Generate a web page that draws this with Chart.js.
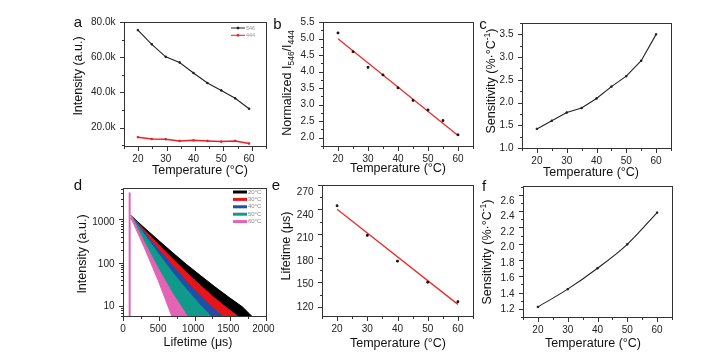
<!DOCTYPE html>
<html>
<head>
<meta charset="utf-8">
<script src="https://cdn.jsdelivr.net/npm/chart.js@4.4.1/dist/chart.umd.min.js"></script>
<style>
  html, body { margin: 0; padding: 0; background: #fff; }
  #wrap { position: relative; width: 717px; height: 354px; }
  #wrap canvas { position: absolute; }
  .ax { position: absolute; background: #333; z-index: 5; }
  .box { position: absolute; border: 1px solid #333; box-sizing: border-box; z-index: 5; }
  #err { position: absolute; left: 2px; top: 300px; width: 60px; font: 7px sans-serif; color: #c00; z-index: 9; }
</style>
</head>
<body>
<div id="wrap"><div id="err"></div></div>
<script>
// ---- data ----
const temps = [20, 25, 30, 35, 40, 45, 50, 55, 60];
const int546 = [75400, 67300, 60200, 57000, 51000, 45300, 41100, 36600, 30700];
const int444 = [14500, 13500, 13300, 12400, 12700, 12400, 12000, 12400, 10900];
const ratio = [5.17, 4.60, 4.13, 3.90, 3.51, 3.13, 2.84, 2.52, 2.09];
const fitTemps = [20, 60];
const ratioFit = [4.99, 2.07];
const sensRatio = [1.42, 1.60, 1.78, 1.88, 2.09, 2.35, 2.58, 2.92, 3.50];

const tempsLife = [20, 30, 40, 50, 60];
const lifetime = [252.7, 214.0, 180.3, 152.7, 127.2];
const lifetimeFit = [248.0, 123.7];
const sensLife = [1.23, 1.46, 1.73, 2.04, 2.45];

// decay curves: noisy bands given by upper / lower envelope
const decayTimes = [115, 300, 500, 700, 900, 1100, 1300, 1500, 1700, 1900];
const decay20Hi = [1470, 768, 387, 197, 102, 55, 30, 16.8, 9.7, 4.5];
const decay20Lo = [1290, 636, 295, 133, 58, 23, 8, 1.6, 1, 1];
const decay30Hi = [1470, 684, 306, 140, 65, 32, 16, 8.6, 4.8, 3];
const decay30Lo = [1290, 560, 224, 86, 31, 9, 1.4, 1, 1, 1];
const decay40Hi = [1470, 602, 236, 96, 40, 18, 8.6, 4.3, 2, 1];
const decay40Lo = [1290, 486, 166, 53, 14.5, 2.2, 1, 1, 1, 1];
const decay50Hi = [1470, 531, 184, 66, 26, 10.6, 4.8, 2, 1, 1];
const decay50Lo = [1290, 345, 78, 19, 5, 1, 1, 1, 1, 1];
const decay60Hi = [1470, 351, 81, 21, 6.4, 2.3, 1, 1, 1, 1];
const decay60Lo = [1290, 263, 42, 5.5, 1, 1, 1, 1, 1, 1];
const spikeTimes = [95, 95];
const spikeCounts = [1, 10000];

// tick labels
const tempTicks = [20, 30, 40, 50, 60];
const intensityTicks = [20000, 40000, 60000, 80000];
const ratioTicks = [2.0, 2.5, 3.0, 3.5, 4.0, 4.5, 5.0, 5.5];
const sensTicksC = [1.0, 1.5, 2.0, 2.5, 3.0, 3.5];
const timeTicks = [0, 500, 1000, 1500, 2000];
const countTicks = [10, 100, 1000];
const lifeTicks = [120, 150, 180, 210, 240, 270];
const sensTicksF = [1.2, 1.4, 1.6, 1.8, 2.0, 2.2, 2.4, 2.6];

const FONT = '"Liberation Sans", Arial, sans-serif';
Chart.defaults.font.family = FONT;
const wrap = document.getElementById('wrap');

function report(msg) {
    document.getElementById('err').textContent += msg + ' ';
}

function toPoints(xs, ys) {
    return xs.map((x, i) => ({ x: x, y: ys[i] }));
}

function minorValues(min, max, step) {
    const out = [];
    for (let i = Math.ceil(min / step - 1e-9); i * step <= max + 1e-9; i++) out.push(i * step);
    return out;
}

// draws text made of pieces (normal / sub / sup), optionally rotated
function drawRich(ctx, pieces, x, y, size, rotate) {
    ctx.save();
    ctx.translate(x, y);
    if (rotate) ctx.rotate(-Math.PI / 2);
    ctx.textBaseline = 'middle';
    ctx.textAlign = 'left';
    ctx.fillStyle = '#111';
    let total = 0;
    const parts = pieces.map(p => {
        const s = (p.sub || p.sup) ? size * 0.68 : size;
        ctx.font = s + 'px ' + FONT;
        const w = ctx.measureText(p.t).width;
        total += w;
        return { t: p.t, s: s, w: w, dy: p.sub ? size * 0.32 : (p.sup ? -size * 0.38 : 0) };
    });
    let cx = -total / 2;
    parts.forEach(p => {
        ctx.font = p.s + 'px ' + FONT;
        ctx.fillText(p.t, cx, p.dy);
        cx += p.w;
    });
    ctx.restore();
}

// settings for each panel (canvas offset, titles, letter, legend), keyed by canvas id
const deco = {};

// titles, panel letters, small legends (given in page coordinates)
const panelText = {
    id: 'panelText',
    afterDraw(chart) {
        const o = deco[chart.canvas.id];
        const ctx = chart.ctx;
        ctx.save();
        ctx.translate(-o.cx, -o.cy);
        drawRich(ctx, o.xTitle.pieces, o.xTitle.x, o.xTitle.y, 12.5, false);
        drawRich(ctx, o.yTitle.pieces, o.yTitle.x, o.yTitle.y, 12.5, true);
        ctx.fillStyle = '#111';
        ctx.font = '15px ' + FONT;
        ctx.textAlign = 'center';
        ctx.textBaseline = 'middle';
        ctx.fillText(o.letter.t, o.letter.x, o.letter.y);
        if (o.legend) {
            const lg = o.legend;
            lg.items.forEach((it, i) => {
                const y = lg.y + i * lg.dy;
                ctx.strokeStyle = it.color;
                ctx.lineWidth = lg.lineWidth;
                ctx.beginPath();
                ctx.moveTo(lg.x, y); ctx.lineTo(lg.x + lg.len, y);
                ctx.stroke();
                if (lg.marker) {
                    ctx.fillStyle = it.color;
                    ctx.fillRect(lg.x + lg.len / 2 - 1.2, y - 1.2, 2.4, 2.4);
                }
                ctx.fillStyle = lg.textColor;
                ctx.font = lg.size + 'px ' + FONT;
                ctx.textAlign = 'left';
                ctx.fillText(it.label, lg.x + lg.len + 1, y);
            });
        }
        ctx.restore();
    }
};
Chart.register(panelText);

function addEl(cls, x, y, w, h) {
    const el = document.createElement('div');
    el.className = cls;
    el.style.left = x + 'px';
    el.style.top = y + 'px';
    el.style.width = w + 'px';
    el.style.height = h + 'px';
    wrap.appendChild(el);
}

// box outline and outward ticks of one panel, placed along the axis range of the plot box
function outlinePanel(box, xOpt, yOpt, d) {
    const L = box[0], T = box[1], R = box[2], B = box[3];
    addEl('box', L, T, R - L + 1, B - T + 1);
    const xPix = v => L + (v - xOpt.min) / (xOpt.max - xOpt.min) * (R - L);
    const yPix = d.logY
        ? v => B - (Math.log10(v) - Math.log10(yOpt.min)) / (Math.log10(yOpt.max) - Math.log10(yOpt.min)) * (B - T)
        : v => B - (v - yOpt.min) / (yOpt.max - yOpt.min) * (B - T);
    const xTick = (v, len) => addEl('ax', Math.round(xPix(v)), B + 1, 1, len);
    const yTick = (v, len) => addEl('ax', L - len, Math.round(yPix(v)), len, 1);
    minorValues(xOpt.min, xOpt.max, d.xMinor).forEach(v => xTick(v, 2));
    let yv = [];
    if (d.logY) {
        for (let k = 0; k < 5; k++) {
            for (let m = 1; m < 10; m++) yv.push(m * Math.pow(10, k));
        }
        yv = yv.filter(v => v >= yOpt.min && v <= yOpt.max);
    } else {
        yv = minorValues(yOpt.min, yOpt.max, d.yMinor);
    }
    yv.forEach(v => yTick(v, 2));
    d.xTicks.forEach(v => xTick(v, 4));
    d.yTicks.forEach(v => yTick(v, 4));
}

function fixedTicks(list) {
    return function (scale) { scale.ticks = list.map(v => ({ value: v })); };
}

// frame = [x, y, w, h] of the canvas on the page, box = [left, top, right, bottom] of the plot area on the page
function makePanel(id, frame, box, datasets, xOpt, yOpt, d) {
    const yW = 40, xH = 30;
    try {
        outlinePanel(box, xOpt, yOpt, d);
    } catch (e) { report('o ' + e.message); }
    const canvas = document.createElement('canvas');
    canvas.id = id;
    canvas.width = frame[2];
    canvas.height = frame[3];
    canvas.style.left = frame[0] + 'px';
    canvas.style.top = frame[1] + 'px';
    wrap.appendChild(canvas);
    d.cx = frame[0];
    d.cy = frame[1];
    deco[id] = d;
    try {
        return new Chart(canvas, {
            type: 'line',
            data: { datasets: datasets },
            options: {
                responsive: false,
                animation: false,
                events: [],
                layout: { padding: {
                    left: box[0] - frame[0] - yW,
                    top: box[1] - frame[1],
                    right: frame[0] + frame[2] - box[2],
                    bottom: frame[1] + frame[3] - box[3] - xH
                } },
                plugins: { legend: { display: false }, tooltip: { enabled: false } },
                scales: {
                    x: Object.assign({
                        type: 'linear',
                        afterFit: s => { s.height = xH; },
                        afterBuildTicks: fixedTicks(d.xTicks),
                        grid: { display: false, drawTicks: false },
                        border: { display: false },
                        ticks: { padding: 7.5, color: '#222', font: { size: 10 }, maxRotation: 0, autoSkip: false, callback: v => String(v) }
                    }, xOpt),
                    y: Object.assign({
                        type: 'linear',
                        afterFit: s => { s.width = yW; },
                        afterBuildTicks: fixedTicks(d.yTicks),
                        grid: { display: false, drawTicks: false },
                        border: { display: false },
                        ticks: { padding: 8.5, color: '#222', font: { size: 10 }, autoSkip: false, callback: d.yLabel }
                    }, yOpt)
                }
            }
        });
    } catch (e) { report(id + ' ' + e.message); }
}

const tempAxis = { min: 15, max: 65 };
const pts = (color, r) => ({ pointStyle: 'rect', pointRadius: r, pointBackgroundColor: color, pointBorderColor: color, pointBorderWidth: 1 });
const tempTitle = [{ t: 'Temperature (°C)' }];
const sensTitle = [{ t: 'Sensitivity (%·°C' }, { t: '-1', sup: true }, { t: ')' }];
const oneDecimal = v => v.toFixed(1);

// a
makePanel('panelA', [60, 5, 208, 177], [124, 22, 266, 146], [
    Object.assign({ data: toPoints(temps, int546), borderColor: '#222', borderWidth: 1.1 }, pts('#222', 1)),
    Object.assign({ data: toPoints(temps, int444), borderColor: '#e8202a', borderWidth: 1.5 }, pts('#e8202a', 1))
], tempAxis, { min: 9500, max: 80000 }, {
    xTicks: tempTicks, yTicks: intensityTicks, xMinor: 5, yMinor: 10000,
    yLabel: v => (v / 1000).toFixed(1) + 'k',
    xTitle: { pieces: tempTitle, x: 200, y: 171 },
    yTitle: { pieces: [{ t: 'Intensity (a.u.)' }], x: 79, y: 76 },
    letter: { t: 'a', x: 78, y: 23 },
    legend: { x: 231, y: 28, dy: 7.3, len: 14, lineWidth: 1, marker: true, size: 5.5, textColor: '#999',
        items: [{ label: '546', color: '#222' }, { label: '444', color: '#e8202a' }] }
});

// b
makePanel('panelB', [268, 5, 210, 177], [323, 22, 473, 146], [
    Object.assign({ data: toPoints(temps, ratio), showLine: false }, pts('#111', 1.2)),
    { data: toPoints(fitTemps, ratioFit), borderColor: '#ee2a2a', borderWidth: 1.3, pointRadius: 0 }
], tempAxis, { min: 1.75, max: 5.5 }, {
    xTicks: tempTicks, yTicks: ratioTicks, xMinor: 5, yMinor: 0.25,
    yLabel: oneDecimal,
    xTitle: { pieces: tempTitle, x: 398, y: 168.5 },
    yTitle: { pieces: [{ t: 'Normalized I' }, { t: '546', sub: true }, { t: '/I' }, { t: '444', sub: true }], x: 288, y: 83 },
    letter: { t: 'b', x: 277.5, y: 25 }
});

// c
makePanel('panelC', [478, 5, 239, 177], [522, 23, 671, 148], [
    Object.assign({ data: toPoints(temps, sensRatio), borderColor: '#222', borderWidth: 1.1 }, pts('#222', 1))
], tempAxis, { min: 1.0, max: 3.75 }, {
    xTicks: tempTicks, yTicks: sensTicksC, xMinor: 5, yMinor: 0.25,
    yLabel: oneDecimal,
    xTitle: { pieces: tempTitle, x: 591, y: 172.5 },
    yTitle: { pieces: sensTitle, x: 492, y: 81 },
    letter: { t: 'c', x: 483, y: 25 }
});

// d
const decaySeries = [
    { label: '60°C', color: '#e563b5', hi: decay60Hi, lo: decay60Lo },
    { label: '50°C', color: '#0f9a8c', hi: decay50Hi, lo: decay50Lo },
    { label: '40°C', color: '#1f4fa6', hi: decay40Hi, lo: decay40Lo },
    { label: '30°C', color: '#e8141c', hi: decay30Hi, lo: decay30Lo },
    { label: '20°C', color: '#000000', hi: decay20Hi, lo: decay20Lo }
];
const decaySets = [];
decaySeries.forEach(s => {
    decaySets.push({ data: toPoints(decayTimes, s.hi), borderColor: s.color, backgroundColor: s.color, borderWidth: 1, pointRadius: 0, fill: '+1' });
    decaySets.push({ data: toPoints(decayTimes, s.lo), borderColor: s.color, borderWidth: 1, pointRadius: 0, fill: false });
});
decaySets.push({ data: toPoints(spikeTimes, spikeCounts), borderColor: '#e563b5', borderWidth: 2, pointRadius: 0 });

makePanel('panelD', [60, 178, 222, 176], [123, 188, 266, 316], decaySets,
    { min: 0, max: 2000 }, { type: 'logarithmic', min: 5.85, max: 5300 }, {
    xTicks: timeTicks, yTicks: countTicks, xMinor: 250, logY: true,
    yLabel: v => String(v),
    xTitle: { pieces: [{ t: 'Lifetime (μs)' }], x: 198, y: 342.5 },
    yTitle: { pieces: [{ t: 'Intensity (a.u.)' }], x: 83, y: 254 },
    letter: { t: 'd', x: 78, y: 186 },
    legend: { x: 233, y: 192, dy: 7.4, len: 14, lineWidth: 3, marker: false, size: 6, textColor: '#888',
        items: decaySeries.slice().reverse().map(s => ({ label: s.label, color: s.color })) }
});

// e
makePanel('panelE', [268, 178, 210, 176], [322, 185, 473, 316], [
    Object.assign({ data: toPoints(tempsLife, lifetime), showLine: false }, pts('#111', 1.2)),
    { data: toPoints(fitTemps, lifetimeFit), borderColor: '#ee2a2a', borderWidth: 1.3, pointRadius: 0 }
], tempAxis, { min: 108.5, max: 270 }, {
    xTicks: tempTicks, yTicks: lifeTicks, xMinor: 5, yMinor: 15,
    yLabel: v => String(v),
    xTitle: { pieces: tempTitle, x: 398, y: 343.5 },
    yTitle: { pieces: [{ t: 'Lifetime (μs)' }], x: 287, y: 246 },
    letter: { t: 'e', x: 276, y: 186 }
});

// f
makePanel('panelF', [478, 178, 239, 176], [523, 186, 672, 317], [
    Object.assign({ data: toPoints(tempsLife, sensLife), borderColor: '#222', borderWidth: 1.1, cubicInterpolationMode: 'monotone' }, pts('#222', 1))
], tempAxis, { min: 1.1, max: 2.71 }, {
    xTicks: tempTicks, yTicks: sensTicksF, xMinor: 5, yMinor: 0.1,
    yLabel: oneDecimal,
    xTitle: { pieces: tempTitle, x: 593, y: 344 },
    yTitle: { pieces: sensTitle, x: 488, y: 252 },
    letter: { t: 'f', x: 484, y: 187 }
});
</script>
</body>
</html>
